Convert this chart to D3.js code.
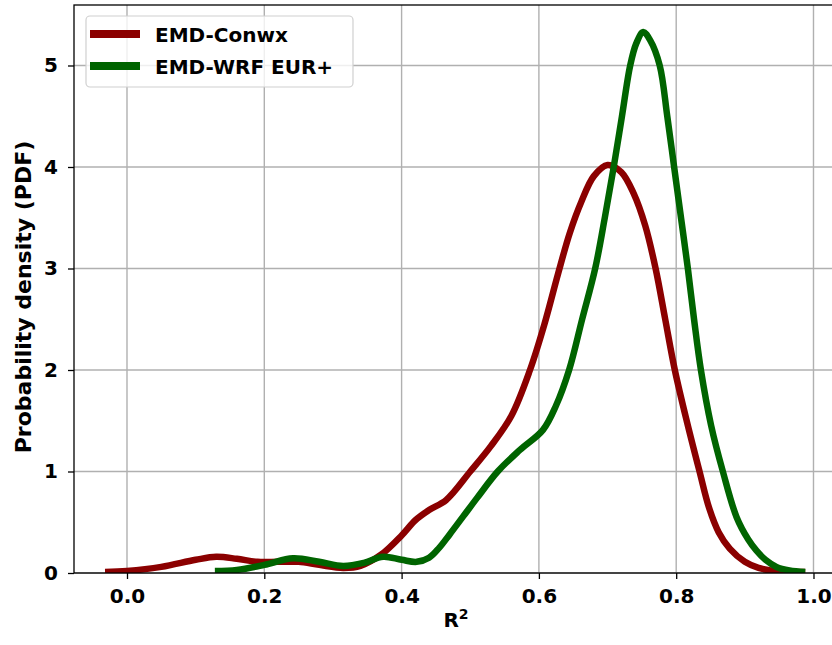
<!DOCTYPE html>
<html><head><meta charset="utf-8">
<script src="https://cdn.jsdelivr.net/npm/d3@7"></script>
<style>body{margin:0;background:#fff}text{font-family:"DejaVu Sans",sans-serif;font-weight:bold}</style>
</head><body><svg id="c" width="832" height="645"></svg>
<script>
const seriesNames = ["EMD-Conwx", "EMD-WRF EUR+"];
const seriesColors = ["#8b0000", "#006400"];
const conwxX = [-0.032,0.0,0.05,0.10,0.13,0.16,0.19,0.22,0.25,0.28,0.315,0.34,0.37,0.40,0.42,0.44,0.465,0.50,0.53,0.56,0.587,0.608,0.628,0.645,0.662,0.68,0.70,0.72,0.738,0.755,0.770,0.784,0.798,0.816,0.834,0.848,0.862,0.878,0.90,0.92,0.95,0.988];
const conwxY = [0.01,0.02,0.06,0.13,0.16,0.14,0.11,0.11,0.11,0.08,0.05,0.07,0.18,0.37,0.52,0.62,0.72,1.0,1.25,1.55,2.0,2.45,2.95,3.35,3.66,3.91,4.02,3.95,3.74,3.42,3.0,2.5,2.0,1.48,1.0,0.64,0.40,0.24,0.11,0.05,0.015,0.01];
const wrfX = [0.128,0.16,0.20,0.242,0.28,0.315,0.345,0.373,0.40,0.422,0.44,0.455,0.47,0.49,0.51,0.54,0.572,0.606,0.625,0.644,0.663,0.682,0.696,0.709,0.721,0.733,0.742,0.752,0.762,0.776,0.787,0.797,0.807,0.817,0.826,0.836,0.851,0.868,0.888,0.905,0.917,0.93,0.946,0.965,0.988];
const wrfY = [0.02,0.03,0.08,0.145,0.11,0.07,0.10,0.16,0.13,0.11,0.15,0.25,0.38,0.56,0.74,1.0,1.21,1.41,1.65,2.0,2.5,3.0,3.5,4.0,4.5,5.0,5.22,5.33,5.25,5.0,4.5,4.0,3.5,3.0,2.5,2.0,1.45,1.0,0.55,0.33,0.22,0.13,0.06,0.025,0.01];
const xTicks = [0.0,0.2,0.4,0.6,0.8,1.0];
const yTicks = [0,1,2,3,4,5];
const xLabel = "R";
const xLabelSup = "2";
const yLabel = "Probability density (PDF)";

const L = 74, R = 838, T = 5, B = 573;
const svg = d3.select("#c");
const x = d3.scaleLinear().domain([-0.0772, 1.0357]).range([L, R]);
const y = d3.scaleLinear().domain([0, 5.596]).range([B, T]);

svg.append("defs").append("clipPath").attr("id","clip")
  .append("rect").attr("x",L).attr("y",T).attr("width",R-L).attr("height",B-T);

// grid
const g = svg.append("g");
g.selectAll(".gx").data(xTicks).join("line")
  .attr("x1",d=>x(d)).attr("x2",d=>x(d)).attr("y1",T).attr("y2",B)
  .attr("stroke","#b0b0b0").attr("stroke-width",1.4);
g.selectAll(".gy").data(yTicks).join("line")
  .attr("x1",L).attr("x2",R).attr("y1",d=>y(d)).attr("y2",d=>y(d))
  .attr("stroke","#b0b0b0").attr("stroke-width",1.4);

// lines
const data = [conwxX.map((v,i)=>[v,conwxY[i]]), wrfX.map((v,i)=>[v,wrfY[i]])];
const line = d3.line().x(d=>x(d[0])).y(d=>y(d[1])).curve(d3.curveCatmullRom.alpha(0.5));
svg.append("g").attr("clip-path","url(#clip)").selectAll("path").data(data).join("path")
  .attr("d",line).attr("fill","none").attr("stroke",(d,i)=>seriesColors[i])
  .attr("stroke-width",6.5).attr("stroke-linejoin","round").attr("stroke-linecap","butt");

// axes
const xAxis = d3.axisBottom(x).tickValues(xTicks).tickFormat(d3.format(".1f")).tickSize(6).tickPadding(10);
const yAxis = d3.axisLeft(y).tickValues(yTicks).tickFormat(d3.format("d")).tickSize(6).tickPadding(10);
const gx = svg.append("g").attr("transform",`translate(0,${B})`).call(xAxis);
const gy = svg.append("g").attr("transform",`translate(${L},0)`).call(yAxis);
[gx,gy].forEach(a=>{
  a.select(".domain").remove();
  a.selectAll("line").attr("stroke","#000").attr("stroke-width",1.3);
  a.selectAll("text").attr("font-size",20).attr("font-family","DejaVu Sans").attr("font-weight","bold").attr("fill","#000");
});
// spines
svg.append("rect").attr("x",L).attr("y",T).attr("width",R-L).attr("height",B-T)
  .attr("fill","none").attr("stroke","#000").attr("stroke-width",1.3);

// labels
const xl = svg.append("text").attr("x",456).attr("y",627).attr("text-anchor","middle").attr("font-size",20);
xl.append("tspan").text(xLabel);
xl.append("tspan").attr("dy",-8).attr("font-size",14).text(xLabelSup);
svg.append("text").attr("transform",`translate(31,297) rotate(-90)`).attr("text-anchor","middle")
  .attr("font-size",22).text(yLabel);

// legend
const lg = svg.append("g");
lg.append("rect").attr("x",86).attr("y",16).attr("width",267).attr("height",71).attr("rx",4)
  .attr("fill","#fff").attr("fill-opacity",0.8).attr("stroke","#d0d0d0").attr("stroke-width",1.2);
seriesNames.forEach((n,i)=>{
  const yy = 34 + i*32;
  lg.append("line").attr("x1",90).attr("x2",140).attr("y1",yy).attr("y2",yy)
    .attr("stroke",seriesColors[i]).attr("stroke-width",8);
  lg.append("text").attr("x",155).attr("y",yy+7.5).attr("font-size",20).text(n);
});
</script></body></html>
